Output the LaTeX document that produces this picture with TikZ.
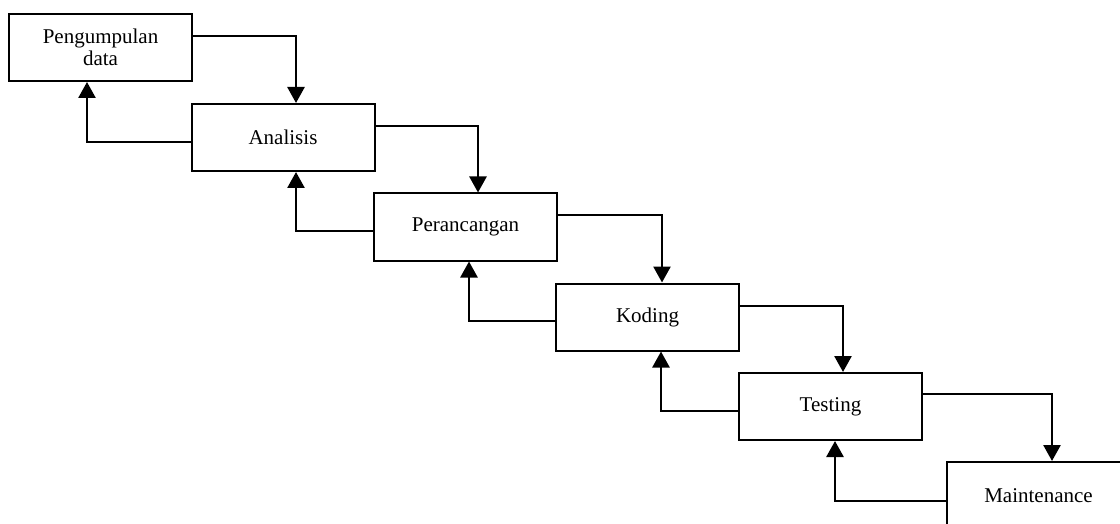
\documentclass[tikz,border=0pt]{standalone}
\usepackage{fontspec}
\setmainfont{Liberation Serif}
\usetikzlibrary{arrows.meta}
\begin{document}
\begin{tikzpicture}[x=1pt,y=-1pt,
  stage/.style={draw=black, line width=2pt, minimum width=183pt, minimum height=67pt,
    inner sep=0pt, align=center, font=\fontsize{21}{22}\selectfont},
  flow/.style={draw=black, line width=2.6pt, -{Triangle[length=16pt,width=17pt]}}]
\clip (0,0) rectangle (1120,524);
\fill[white] (0,0) rectangle (1120,524);
\node[stage] (b1) at (100.5,47.5) {Pengumpulan\\data};
\node[stage] (b2) at (283,137.5) {Analisis};
\node[stage] (b3) at (465.5,227) {Perancangan};
\node[stage] (b4) at (647.5,317) {Koding};
\node[stage] (b5) at (830.5,406.5) {Testing};
\node[stage] (b6) at (1038.5,495.5) {Maintenance};
% forward
\draw[flow] ([yshift=11.5pt]b1.east) -| ([xshift=13pt]b2.north);
\draw[flow] ([yshift=11.5pt]b2.east) -| ([xshift=12.5pt]b3.north);
\draw[flow] ([yshift=12pt]b3.east) -| ([xshift=14.5pt]b4.north);
\draw[flow] ([yshift=11pt]b4.east) -| ([xshift=12.5pt]b5.north);
\draw[flow] ([yshift=12.5pt]b5.east) -| ([xshift=13.5pt]b6.north);
% backward
\draw[flow] ([yshift=-4.5pt]b2.west) -| ([xshift=-13.5pt]b1.south);
\draw[flow] ([yshift=-4pt]b3.west) -| ([xshift=13pt]b2.south);
\draw[flow] ([yshift=-4pt]b4.west) -| ([xshift=3.5pt]b3.south);
\draw[flow] ([yshift=-4.5pt]b5.west) -| ([xshift=13.5pt]b4.south);
\draw[flow] ([yshift=-5.5pt]b6.west) -| ([xshift=4.5pt]b5.south);
\end{tikzpicture}
\end{document}
